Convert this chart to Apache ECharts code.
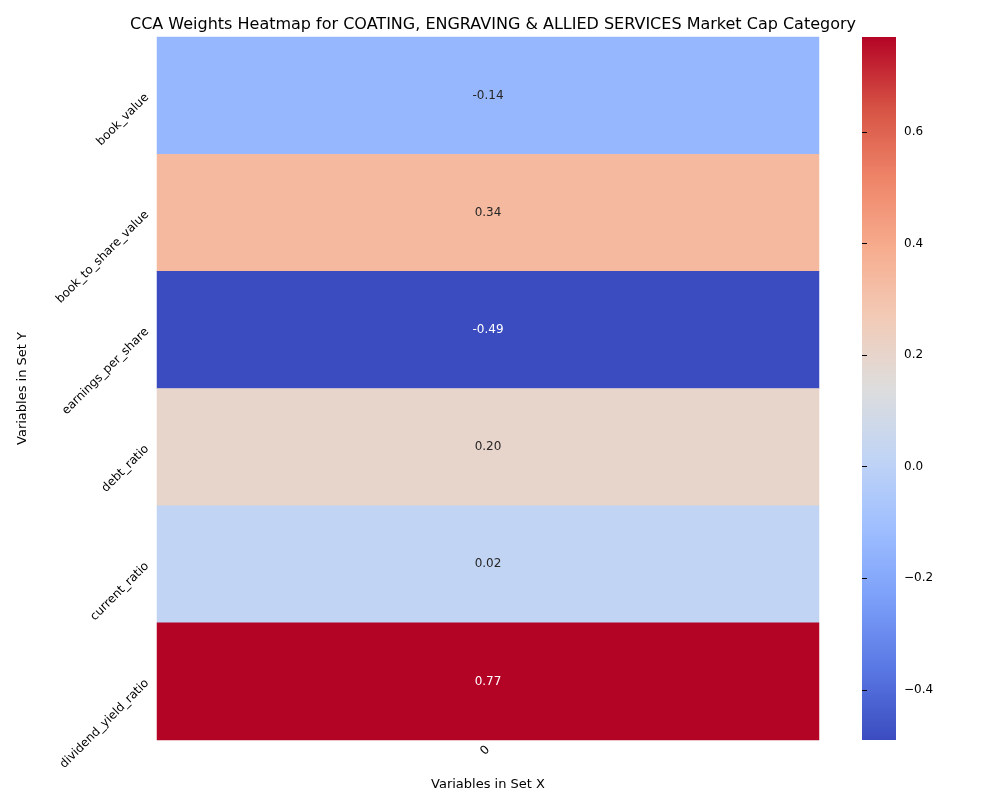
<!DOCTYPE html>
<html>
<head>
<meta charset="utf-8">
<script src="https://cdn.jsdelivr.net/npm/echarts@6/dist/echarts.min.js"></script>
</head>
<body style="margin:0">
<div id="main" style="width:1000px;height:800px"></div>
<script>
// 数据
var xCats = ['0'];
var yCats = ['book_value', 'book_to_share_value', 'earnings_per_share', 'debt_ratio', 'current_ratio', 'dividend_yield_ratio'];
var weights = [-0.14, 0.34, -0.49, 0.20, 0.02, 0.77];
var barTicks = [-0.4, -0.2, 0.0, 0.2, 0.4, 0.6];
var vMin = -0.49, vMax = 0.77;

var coolwarm = ['#3b4cc0', '#5977e3', '#7b9ff9', '#9ebeff', '#c0d4f5', '#dddddd', '#f2cbb7', '#f7ac8e', '#ee8468', '#d65244', '#b40426'];

var chart = echarts.init(document.getElementById('main'));
var cells = weights.map(function (v, i) { return [0, i, v]; });
var font = 'DejaVu Sans';

var gradStops = coolwarm.map(function (c, i) {
    return { offset: 1 - i / (coolwarm.length - 1), color: c };
});

option = {
    textStyle: { fontFamily: font },
    title: {
        text: 'CCA Weights Heatmap for COATING, ENGRAVING & ALLIED SERVICES Market Cap Category',
        left: 488, top: 12, textAlign: 'center',
        textStyle: { fontSize: 16, fontWeight: 'normal', color: '#000', fontFamily: font }
    },
    grid: [
        { left: 157, top: 37, width: 662, height: 703 },
        { left: 862, top: 37, width: 34, height: 703 }
    ],
    visualMap: {
        show: false, min: vMin, max: vMax, seriesIndex: 0,
        inRange: { color: coolwarm }
    },
    graphic: [{
        type: 'rect', shape: { x: 862, y: 37, width: 34, height: 703 },
        style: { fill: new echarts.graphic.LinearGradient(0, 0, 0, 1, gradStops) }
    }],
    xAxis: [{
        type: 'category', data: xCats, gridIndex: 0,
        name: 'Variables in Set X', nameLocation: 'middle', nameGap: 38,
        nameTextStyle: { fontSize: 13, color: '#000' },
        axisLine: { show: false },
        axisTick: { alignWithLabel: true, length: 5, lineStyle: { color: '#000' } },
        axisLabel: { rotate: 45, fontSize: 12, color: '#000', margin: 8 }
    }, {
        type: 'value', gridIndex: 1, show: false
    }],
    yAxis: [{
        type: 'category', data: yCats, gridIndex: 0, inverse: true,
        name: 'Variables in Set Y', nameLocation: 'middle', nameGap: 128, nameRotate: 90,
        nameTextStyle: { fontSize: 13, color: '#000' },
        axisLine: { show: false },
        axisTick: { alignWithLabel: true, length: 5, lineStyle: { color: '#000' } },
        axisLabel: { rotate: 45, fontSize: 12, color: '#000', margin: 10 }
    }, {
        type: 'value', gridIndex: 1, position: 'right', min: vMin, max: vMax,
        axisLine: { show: false },
        splitLine: { show: false },
        axisTick: { show: true, length: 5, lineStyle: { color: '#000' }, customValues: barTicks },
        axisLabel: {
            fontSize: 12, color: '#000', margin: 8, customValues: barTicks,
            formatter: function (v) { return (v < 0 ? '\u2212' + Math.abs(v).toFixed(1) : v.toFixed(1)); }
        }
    }],
    series: [{
        type: 'heatmap', xAxisIndex: 0, yAxisIndex: 0, data: cells,
        label: {
            show: true, fontSize: 12,
            formatter: function (p) { return p.value[2].toFixed(2); },
            color: '#262626'
        }
    }]
};
// 深色格子用白字
option.series[0].data = cells.map(function (c) {
    var light = c[2] < -0.35 || c[2] > 0.6;
    return { value: c, label: { color: light ? '#fff' : '#262626' } };
});
chart.setOption(option);
</script>
</body>
</html>
